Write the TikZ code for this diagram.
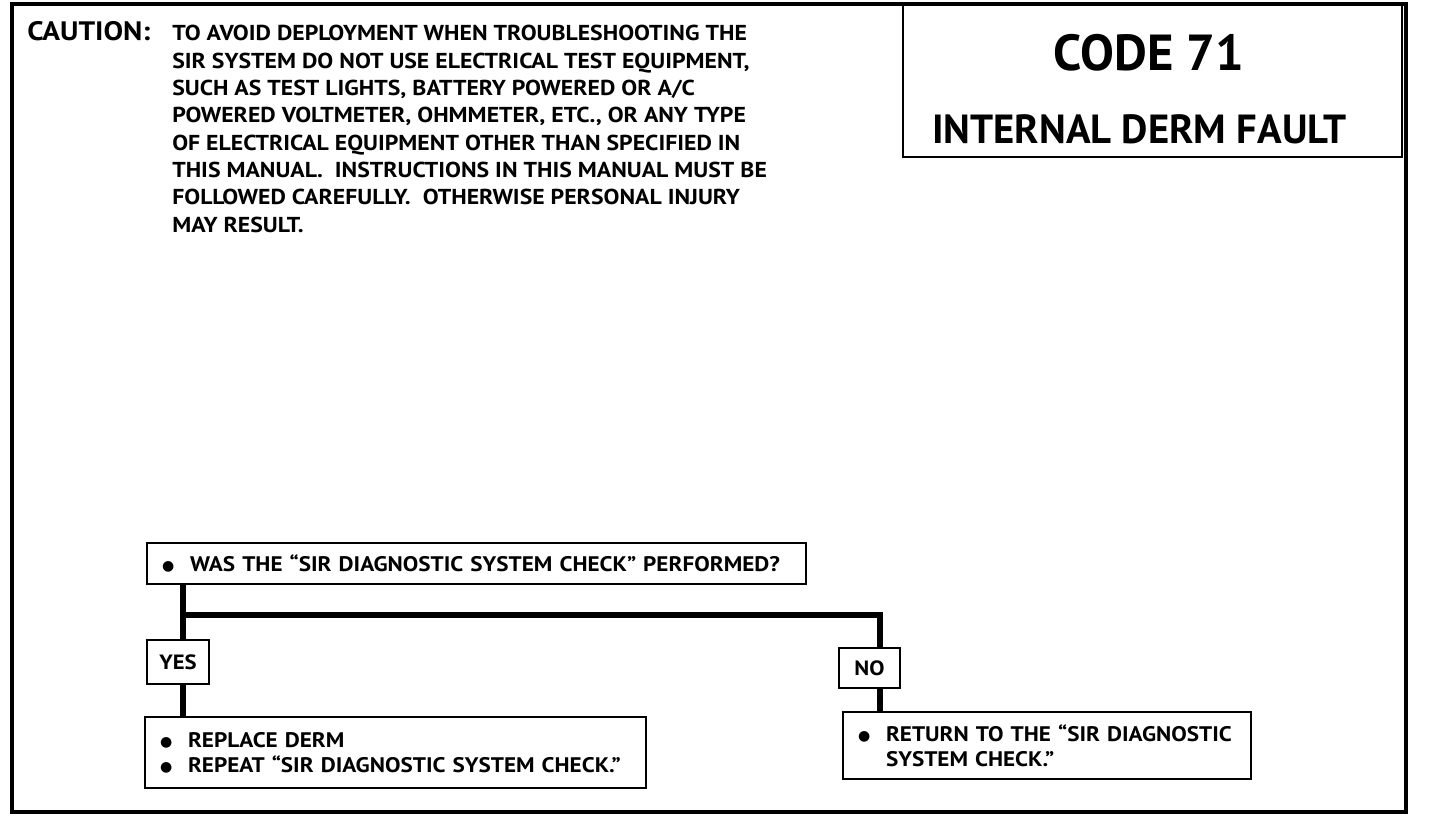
\documentclass[tikz,border=0pt]{standalone}
\usepackage{fontspec}
\setmainfont{PT Sans}
\newfontfamily\wide{PT Sans}[FakeStretch=1.1]
\newfontfamily\symfont{DejaVu Sans}
\newcommand{\bul}{\makebox[21pt][l]{\raisebox{0.8pt}{\symfont\fontsize{10.5}{10}\selectfont ●}}}
\begin{document}
\begin{tikzpicture}[x=0.75pt,y=-0.75pt,font=\bfseries,
  outer/.style={draw,line width=3pt},
  titlebox/.style={draw,line width=1.8pt,minimum width=374.25pt,minimum height=114.75pt},
  box/.style={draw,line width=2pt,inner xsep=11.25pt,inner ysep=0pt,align=left,
    font=\wide\bfseries\fontsize{15.8}{18.75}\selectfont},
  ansbox/.style={draw,line width=2pt,inner sep=0pt,font=\wide\bfseries\fontsize{15.5}{18}\selectfont},
  flow/.style={line width=4.5pt,line join=miter}]
\useasboundingbox (0,0) rectangle (1440,818);
\draw[outer] (12,4) rectangle (1406,812);
\node[titlebox] (title) at (1152.5,80.5) {};
\node[anchor=base,inner sep=0] (code) at (1149,70) {\fontsize{38}{38}\selectfont CODE 71};
\node[anchor=base west,inner sep=0] (fault) at (932,143) {\fontsize{30.5}{30}\selectfont INTERNAL DERM FAULT};
\node[anchor=base west,inner sep=0,font=\wide\bfseries\fontsize{20}{20}\selectfont] (caution) at (27,40) {CAUTION:};
\node[anchor=north west,align=left,inner sep=0,font=\wide\bfseries\fontsize{16.2}{20.5}\selectfont] (warn) at (172,25) {%
TO AVOID DEPLOYMENT WHEN TROUBLESHOOTING THE\\
SIR SYSTEM DO NOT USE ELECTRICAL TEST EQUIPMENT,\\
SUCH AS TEST LIGHTS, BATTERY POWERED OR A/C\\
POWERED VOLTMETER, OHMMETER, ETC., OR ANY TYPE\\
OF ELECTRICAL EQUIPMENT OTHER THAN SPECIFIED IN\\
THIS MANUAL.\ \ INSTRUCTIONS IN THIS MANUAL MUST BE\\
FOLLOWED CAREFULLY.\ \ OTHERWISE PERSONAL INJURY\\
MAY RESULT.};

\coordinate (ysplit) at (183,615);
\coordinate (nsplit) at (880,615);

\node[box,text width=471.75pt,minimum height=30.75pt] (Q) at (476.5,563.5)
  {\bul WAS THE “SIR DIAGNOSTIC SYSTEM CHECK” PERFORMED?};
\node[ansbox,minimum width=46.5pt,minimum height=33pt] (YES) at (178,662) {YES};
\node[ansbox,minimum width=45.75pt,minimum height=30pt] (NO) at (869.5,668) {NO};
\node[box,text width=353.25pt,minimum height=53.25pt] (R) at (395.5,752.5)
  {\bul REPLACE DERM\\ \bul REPEAT “SIR DIAGNOSTIC SYSTEM CHECK.”};
\node[box,text width=283.5pt,minimum height=50.25pt] (RT) at (1047,745.5)
  {\bul RETURN TO THE “SIR DIAGNOSTIC\\ \hspace*{21pt}SYSTEM CHECK.”};

\draw[flow] (Q.south -| ysplit) -- (YES.north -| ysplit);
\draw[flow] (ysplit) -- (nsplit) -- (NO.north -| nsplit);
\draw[flow] (YES.south -| ysplit) -- (R.north -| ysplit);
\draw[flow] (NO.south -| nsplit) -- (RT.north -| nsplit);
\end{tikzpicture}
\end{document}
